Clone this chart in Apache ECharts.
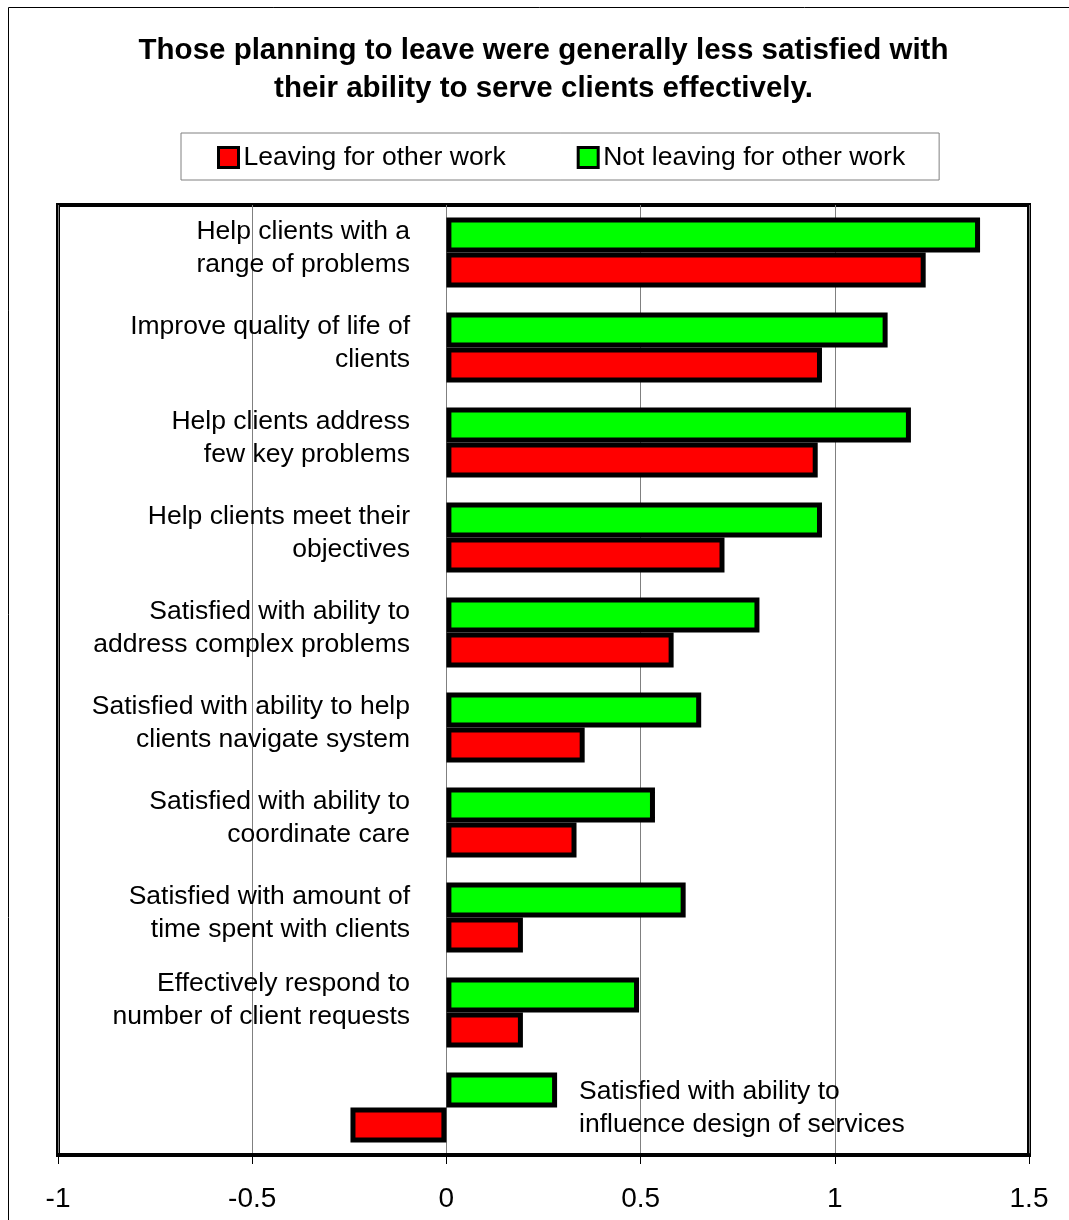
<!DOCTYPE html>
<html>
<head>
<meta charset="utf-8">
<script src="https://cdn.jsdelivr.net/npm/echarts@6/dist/echarts.min.js"></script>
<style>
html,body{margin:0;padding:0;background:#fff;}
#chart{width:1069px;height:1220px;}
</style>
</head>
<body>
<div id="chart"></div>
<script>
const titleText = 'Those planning to leave were generally less satisfied with\ntheir ability to serve clients effectively.';
const seriesNames = ['Leaving for other work', 'Not leaving for other work'];
const categories = [
  'Help clients with a\nrange of problems',
  'Improve quality of life of\nclients',
  'Help clients address\nfew key problems',
  'Help clients meet their\nobjectives',
  'Satisfied with ability to\naddress complex problems',
  'Satisfied with ability to help\nclients navigate system',
  'Satisfied with ability to\ncoordinate care',
  'Satisfied with amount of\ntime spent with clients',
  'Effectively respond to\nnumber of client requests\nfor help',
  'Satisfied with ability to\ninfluence design of services'
];
const leaving    = [1.234, 0.967, 0.956, 0.716, 0.585, 0.356, 0.335, 0.197, 0.197, -0.247];
const notLeaving = [1.374, 1.136, 1.196, 0.967, 0.806, 0.656, 0.537, 0.616, 0.496, 0.285];
const xTicks = [-1, -0.5, 0, 0.5, 1, 1.5];

const FONT = "'Liberation Sans', Arial, sans-serif";
const chart = echarts.init(document.getElementById('chart'), null, {renderer: 'canvas'});

const lastIdx = categories.length - 1;
const clippedIdx = 8;

const greenData = notLeaving.map((v, i) => i === lastIdx ? {
  value: v,
  label: {
    show: true, position: 'right', distance: 22, offset: [0, 18.5],
    formatter: categories[i], color: '#000', fontSize: 26.5, lineHeight: 33,
    fontFamily: FONT, align: 'left'
  }
} : v);

const option = {
  backgroundColor: '#fff',
  animation: false,
  textStyle: {fontFamily: FONT},
  graphic: [{
    type: 'rect', silent: true,
    shape: {x: 8.5, y: 7.5, width: 1100, height: 1300},
    style: {fill: 'none', stroke: '#000', lineWidth: 1}
  }],
  title: {
    text: titleText,
    left: 543.5, top: 32, padding: 0, textAlign: 'center',
    textStyle: {fontSize: 29.5, fontWeight: 'bold', color: '#000', lineHeight: 38, fontFamily: FONT}
  },
  legend: {
    data: seriesNames,
    left: 181, top: 133,
    padding: [11, 34, 9, 36],
    borderColor: '#808080', borderWidth: 1,
    itemWidth: 20, itemHeight: 20, itemGap: 71,
    icon: 'rect',
    itemStyle: {borderColor: '#000', borderWidth: 3},
    textStyle: {fontSize: 26.5, color: '#000', fontFamily: FONT}
  },
  grid: {
    left: 58, right: 40, top: 205, bottom: 65,
    show: true, borderColor: '#000', borderWidth: 4,
    containLabel: false, outerBoundsMode: 'none'
  },
  xAxis: {
    type: 'value',
    min: xTicks[0], max: xTicks[xTicks.length - 1], interval: xTicks[1] - xTicks[0],
    axisLine: {show: true, lineStyle: {color: '#000', width: 4}},
    axisTick: {show: true, length: 9, lineStyle: {color: '#000', width: 1}},
    axisLabel: {fontSize: 28, color: '#000', margin: 30, fontFamily: FONT},
    splitLine: {show: true, lineStyle: {color: '#808080', width: 1}}
  },
  yAxis: {
    type: 'category',
    data: categories,
    inverse: true,
    axisLine: {show: false},
    axisTick: {show: false},
    splitLine: {show: false},
    axisLabel: {
      fontSize: 26.5, lineHeight: 33, color: '#000', margin: -352, fontFamily: FONT,
      padding: [0, 0, 9, 0],
      formatter: function (val, idx) {
        if (idx === lastIdx) return '';
        if (idx === clippedIdx) {
          const lines = val.split('\n');
          return lines[0] + '\n' + lines[1] + '\n{s| }';
        }
        return val;
      },
      rich: {s: {fontSize: 2, lineHeight: 15}}
    }
  },
  series: [
    {
      name: seriesNames[1], type: 'bar', data: greenData,
      barWidth: 35, barGap: '0%',
      itemStyle: {color: '#00ff00', borderColor: '#000', borderWidth: 5}
    },
    {
      name: seriesNames[0], type: 'bar', data: leaving,
      barWidth: 35, barGap: '0%',
      itemStyle: {color: '#ff0000', borderColor: '#000', borderWidth: 5}
    }
  ]
};
chart.setOption(option);
</script>
</body>
</html>
